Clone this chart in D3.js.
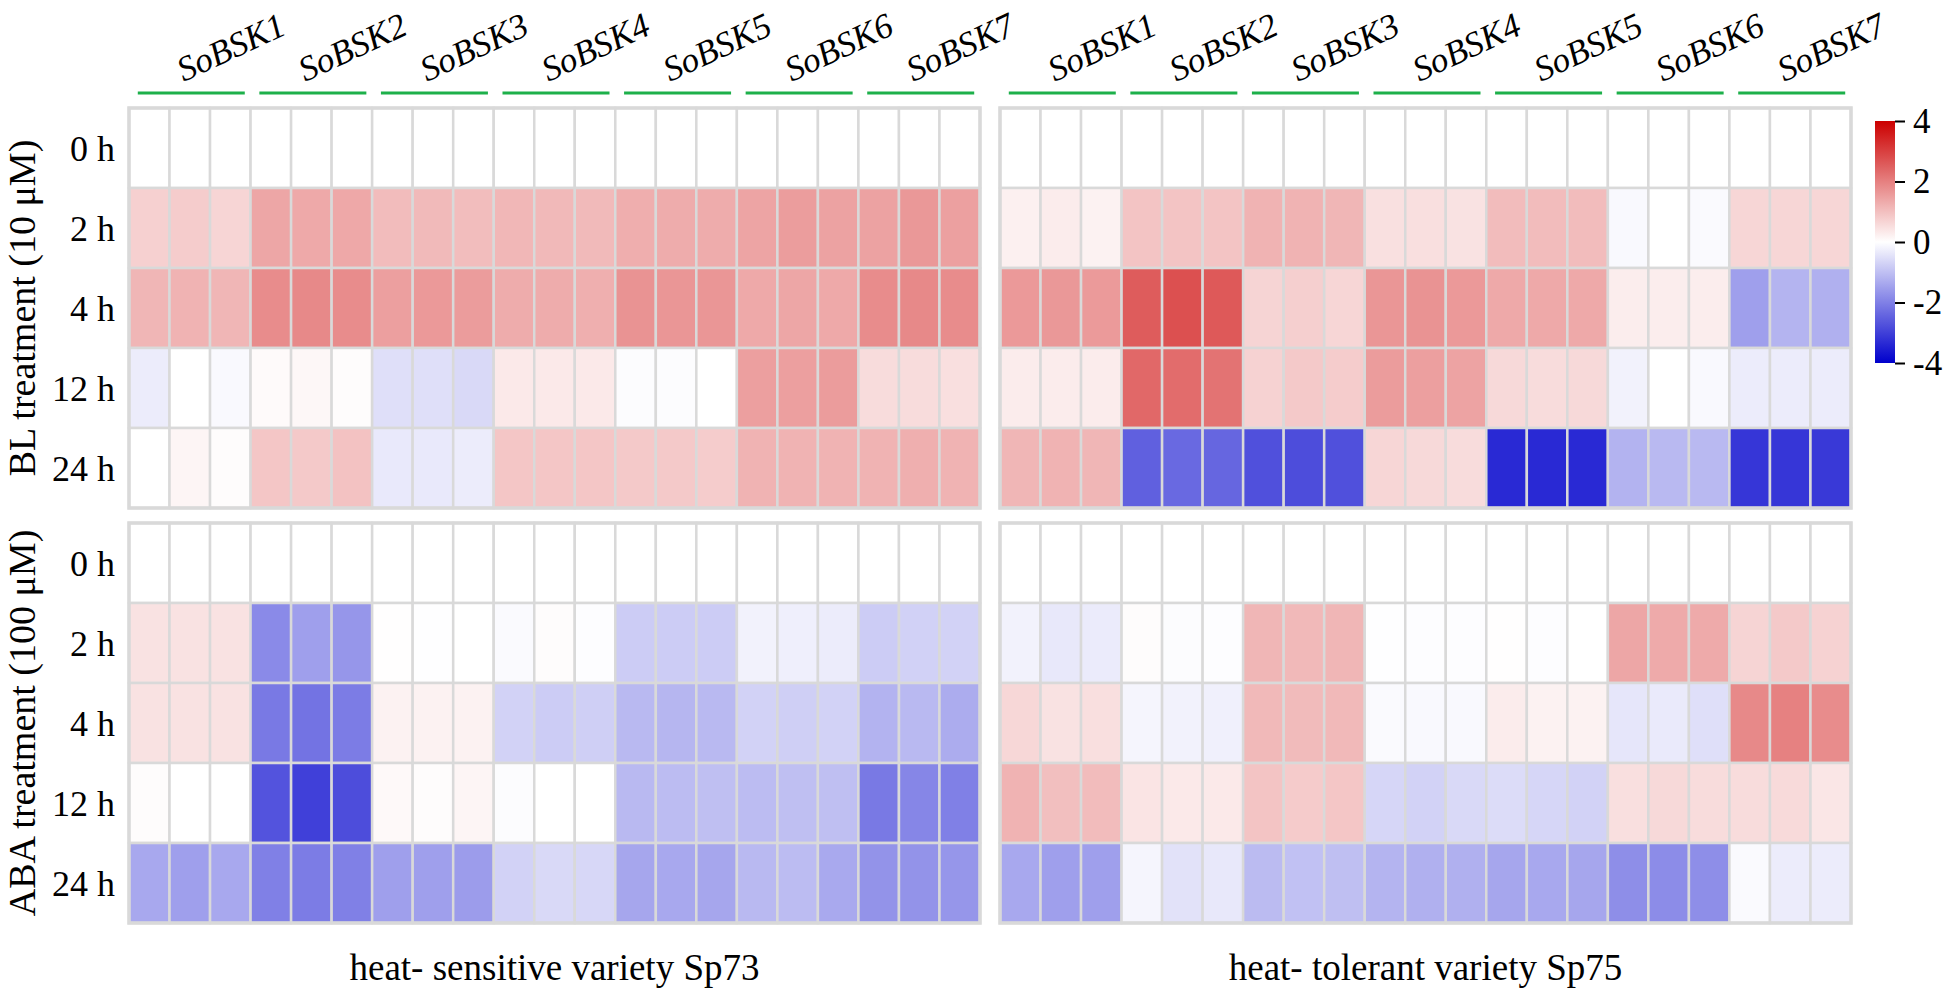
<!DOCTYPE html>
<html>
<head>
<meta charset="utf-8">
<script src="https://cdn.jsdelivr.net/npm/d3@7"></script>
<style>
  html, body { margin: 0; padding: 0; background: #fff; }
  svg { display: block; font-family: "Liberation Serif", "Times New Roman", serif; }
  text.gene { font-style: italic; font-synthesis: style; }
</style>
</head>
<body>
<svg id="chart" width="1944" height="993"></svg>
<script>
// ---------------- DATA ----------------
const genes = ["SoBSK1","SoBSK2","SoBSK3","SoBSK4","SoBSK5","SoBSK6","SoBSK7"];
const reps = [1, 2, 3];
const times = ["0 h","2 h","4 h","12 h","24 h"];
const varieties = ["heat- sensitive variety Sp73", "heat- tolerant variety Sp75"];
const treatments = ["BL treatment (10 \u03bcM)", "ABA treatment (100 \u03bcM)"];
const colorTicks = [4, 2, 0, -2, -4];

// rows = times, columns = gene x replicate (7 x 3)
const blSensitive = [
  [0,0,0, 0,0,0, 0,0,0, 0,0,0, 0,0,0, 0,0,0, 0,0,0],
  [0.74,0.8,0.66, 1.4,1.35,1.37, 1.05,1.08,1.04, 1.13,1.1,1.08, 1.27,1.3,1.3, 1.43,1.54,1.46, 1.46,1.62,1.49],
  [1.15,1.2,1.15, 1.8,1.85,1.8, 1.5,1.6,1.55, 1.3,1.3,1.25, 1.7,1.65,1.65, 1.35,1.4,1.35, 1.8,1.85,1.8],
  [-0.3,0.0,-0.1, 0.08,0.12,0.05, -0.5,-0.5,-0.6, 0.35,0.35,0.35, -0.05,-0.05,0.0, 1.5,1.5,1.55, 0.55,0.55,0.5],
  [0.0,0.15,0.05, 0.9,0.85,0.95, -0.35,-0.35,-0.3, 0.9,0.9,0.9, 0.85,0.85,0.8, 1.2,1.2,1.2, 1.2,1.25,1.2]
];
const blTolerant = [
  [0,0,0, 0,0,0, 0,0,0, 0,0,0, 0,0,0, 0,0,0, 0,0,0],
  [0.23,0.3,0.2, 0.93,0.93,0.93, 1.19,1.2,1.15, 0.49,0.5,0.45, 1.05,1.05,1.05, -0.1,0.0,-0.08, 0.64,0.64,0.64],
  [1.6,1.62,1.58, 2.55,2.75,2.6, 0.67,0.75,0.65, 1.65,1.7,1.6, 1.35,1.35,1.35, 0.28,0.28,0.28, -1.5,-1.18,-1.24],
  [0.3,0.3,0.3, 2.37,2.3,2.2, 0.7,0.85,0.8, 1.55,1.5,1.45, 0.6,0.55,0.6, -0.2,0.0,-0.1, -0.3,-0.3,-0.3],
  [1.15,1.2,1.15, -2.5,-2.35,-2.4, -2.75,-2.8,-2.75, 0.65,0.6,0.55, -3.35,-3.35,-3.35, -1.2,-1.1,-1.1, -3.15,-3.15,-3.1]
];
const abaSensitive = [
  [0,0,0, 0,0,0, 0,0,0, 0,0,0, 0,0,0, 0,0,0, 0,0,0],
  [0.45,0.45,0.45, -1.83,-1.5,-1.65, 0.02,-0.02,0.0, -0.08,0.05,-0.03, -0.8,-0.8,-0.8, -0.2,-0.25,-0.3, -0.8,-0.72,-0.7],
  [0.45,0.45,0.45, -2.1,-2.2,-2.05, 0.2,0.2,0.2, -0.7,-0.8,-0.75, -1.1,-1.15,-1.1, -0.7,-0.75,-0.7, -1.2,-1.1,-1.3],
  [0.05,0.0,0.0, -2.7,-3.0,-2.8, 0.1,0.05,0.15, -0.05,0.0,0.0, -1.1,-1.05,-1.0, -1.05,-1.0,-1.0, -2.1,-1.9,-2.0],
  [-1.36,-1.5,-1.36, -2.0,-2.05,-2.0, -1.5,-1.5,-1.55, -0.7,-0.6,-0.62, -1.4,-1.36,-1.4, -1.1,-1.05,-1.35, -1.7,-1.7,-1.65]
];
const abaTolerant = [
  [0,0,0, 0,0,0, 0,0,0, 0,0,0, 0,0,0, 0,0,0, 0,0,0],
  [-0.2,-0.36,-0.32, 0.05,-0.05,-0.03, 1.15,1.1,1.15, -0.02,-0.03,-0.03, 0.02,-0.03,0.0, 1.4,1.33,1.33, 0.67,0.85,0.7],
  [0.63,0.45,0.5, -0.15,-0.2,-0.24, 1.1,1.07,1.1, -0.08,-0.1,-0.1, 0.3,0.2,0.2, -0.4,-0.33,-0.5, 1.85,1.97,1.8],
  [1.2,1.0,1.05, 0.43,0.35,0.35, 0.93,0.82,0.9, -0.64,-0.7,-0.6, -0.55,-0.64,-0.7, 0.5,0.6,0.55, 0.55,0.58,0.4],
  [-1.36,-1.5,-1.5, -0.15,-0.45,-0.36, -1.07,-0.98,-1.0, -1.18,-1.24,-1.24, -1.4,-1.36,-1.4, -1.77,-1.8,-1.77, -0.08,-0.3,-0.3]
];

// ---------------- LAYOUT ----------------
const svg = d3.select("#chart");
const FONT = "Liberation Serif, Times New Roman, serif";
const panelX = [129, 1000];
const panelY = [108, 523];
const panelW = 851, panelH = 400;
const gridColor = "#d9d9d9";

const color = d3.scaleLinear().domain([-4, 0, 4]).range(["#0000cc", "#ffffff", "#cc0000"]).clamp(true);

const columns = [];
genes.forEach(g => reps.forEach(r => columns.push(g + "_" + r)));

const panels = [
  {data: blSensitive, col: 0, row: 0},
  {data: blTolerant, col: 1, row: 0},
  {data: abaSensitive, col: 0, row: 1},
  {data: abaTolerant, col: 1, row: 1}
];

panels.forEach(p => {
  const x = d3.scaleBand().domain(columns).range([panelX[p.col], panelX[p.col] + panelW]);
  const y = d3.scaleBand().domain(times).range([panelY[p.row], panelY[p.row] + panelH]);
  const g = svg.append("g");
  const cells = [];
  p.data.forEach((rowVals, i) => rowVals.forEach((v, j) => cells.push({t: times[i], c: columns[j], v})));
  g.selectAll("rect.cell").data(cells).join("rect")
    .attr("class", "cell")
    .attr("x", d => x(d.c))
    .attr("y", d => y(d.t))
    .attr("width", x.bandwidth())
    .attr("height", y.bandwidth())
    .attr("fill", d => color(d.v))
    .attr("stroke", gridColor)
    .attr("stroke-width", 2.5);
  g.append("rect")
    .attr("x", panelX[p.col]).attr("y", panelY[p.row])
    .attr("width", panelW).attr("height", panelH)
    .attr("fill", "none").attr("stroke", gridColor).attr("stroke-width", 3.5);

  if (p.col === 0) {
    g.selectAll("text.rowlab").data(times).join("text")
      .attr("class", "rowlab")
      .attr("x", 115)
      .attr("y", d => y(d) + y.bandwidth() / 2)
      .attr("dy", "0.35em")
      .attr("text-anchor", "end")
      .style("font-family", FONT)
      .style("font-size", "36px")
      .text(d => d);
  }

  if (p.row === 0) {
    const gx = d3.scaleBand().domain(genes).range([panelX[p.col], panelX[p.col] + panelW]);
    g.selectAll("line.grp").data(genes).join("line")
      .attr("class", "grp")
      .attr("x1", d => gx(d) + gx.bandwidth() / 2 - 52)
      .attr("x2", d => gx(d) + gx.bandwidth() / 2 + 55)
      .attr("y1", 93).attr("y2", 93)
      .attr("stroke", "#1db04a").attr("stroke-width", 3);
    g.selectAll("text.gene").data(genes).join("text")
      .attr("class", "gene")
      .attr("transform", d => "translate(" + (gx(d) + gx.bandwidth() / 2 - 6) + ",82) rotate(-25)")
      .attr("text-anchor", "start")
      .style("font-family", FONT)
      .style("font-size", "35px")
      .text(d => d);
  }

  if (p.row === 1) {
    svg.append("text")
      .attr("x", panelX[p.col] + panelW / 2)
      .attr("y", 980)
      .attr("text-anchor", "middle")
      .style("font-family", FONT)
      .style("font-size", "37px")
      .text(varieties[p.col]);
  }
});

// treatment titles
treatments.forEach((t, i) => {
  svg.append("text")
    .attr("transform", "translate(35," + (panelY[i] + panelH / 2) + ") rotate(-90)")
    .attr("text-anchor", "middle")
    .style("font-family", FONT)
    .style("font-size", "38px")
    .text(t);
});

// ---------------- COLOR BAR ----------------
const cbX = 1875, cbW = 20, cbTop = 121, cbBottom = 363;
const defs = svg.append("defs");
const grad = defs.append("linearGradient").attr("id", "cbgrad")
  .attr("x1", "0").attr("y1", "1").attr("x2", "0").attr("y2", "0");
d3.range(0, 1.0001, 0.05).forEach(f => {
  grad.append("stop").attr("offset", f).attr("stop-color", color(-4 + 8 * f));
});
svg.append("rect")
  .attr("x", cbX).attr("y", cbTop)
  .attr("width", cbW).attr("height", cbBottom - cbTop)
  .attr("fill", "url(#cbgrad)");

const cbScale = d3.scaleLinear().domain([-4, 4]).range([cbBottom, cbTop]);
const cbAxis = d3.axisRight(cbScale)
  .tickValues(colorTicks)
  .tickSize(10)
  .tickPadding(8)
  .tickFormat(d => (d < 0 ? "-" + Math.abs(d) : String(d)));
const cbG = svg.append("g").attr("transform", "translate(" + (cbX + cbW) + ",0)").call(cbAxis);
cbG.select(".domain").remove();
cbG.selectAll(".tick line").attr("stroke", "#000").attr("stroke-width", 2);
cbG.selectAll(".tick text")
  .style("font-family", FONT)
  .style("font-size", "35px")
  .attr("fill", "#000");
</script>
</body>
</html>
